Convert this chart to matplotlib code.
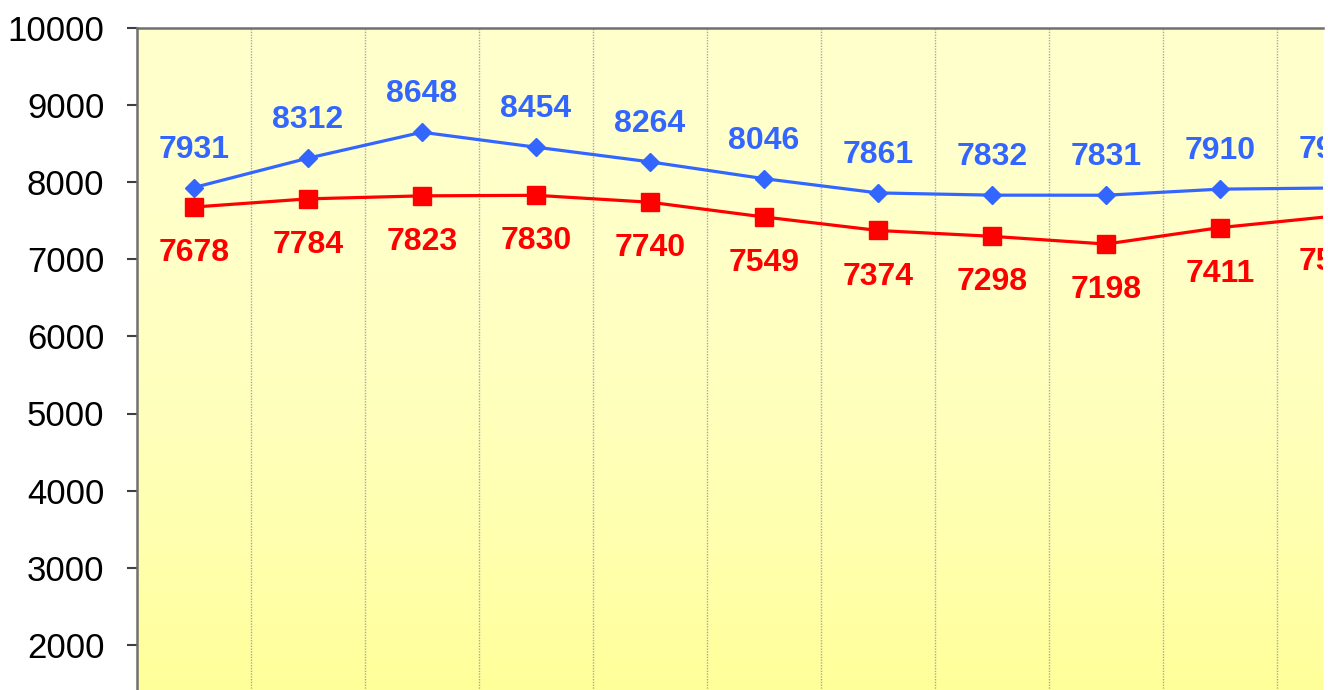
import numpy as np
import matplotlib
matplotlib.use("Agg")
import matplotlib.pyplot as plt

plt.rcParams['font.family'] = ['Liberation Sans', 'DejaVu Sans']

# ---- data ----
categories = list(range(11))
series_blue = [7931, 8312, 8648, 8454, 8264, 8046, 7861, 7832, 7831, 7910, 7925]
series_red = [7678, 7784, 7823, 7830, 7740, 7549, 7374, 7298, 7198, 7411, 7560]
y_ticks = [2000, 3000, 4000, 5000, 6000, 7000, 8000, 9000, 10000]

W, H = 1328, 690
fig = plt.figure(figsize=(W / 100, H / 100), dpi=100)
fig.patch.set_facecolor('white')

left_px, right_px, top_px, zero_px = 137, 1323, 28, 799
ax = fig.add_axes([left_px / W, (H - zero_px) / H,
                   (right_px - left_px) / W, (zero_px - top_px) / H])

xmin = -0.5
xmax = xmin + (right_px - left_px) / 114.0
ax.set_xlim(xmin, xmax)
ax.set_ylim(0, 10000)

# gradient background
t = np.linspace(0, 1, 256)  # 0 top -> 1 bottom
prof = t ** 2
top_c = np.array([255, 255, 205]) / 255
bot_c = np.array([255, 255, 135]) / 255
grad = (top_c[None, :] * (1 - prof[:, None]) + bot_c[None, :] * prof[:, None])
ax.imshow(grad[:, None, :], extent=[0, 1, 0, 1], transform=ax.transAxes,
          aspect='auto', zorder=0, interpolation='bilinear')

# vertical dotted grid at category boundaries
for b in np.arange(0.5, 12, 1.0):
    ax.axvline(b, color='#a8a8a8', linestyle=(0, (1, 1)), linewidth=1.0, zorder=1)

ax.plot(categories, series_blue, color='#3366ff', linewidth=2.3, marker='D',
        markersize=9.5, markerfacecolor='#3366ff', markeredgecolor='#3366ff', zorder=3)
ax.plot(categories, series_red, color='#ff0000', linewidth=2.3, marker='s',
        markersize=13, markerfacecolor='#ff0000', markeredgecolor='#ff0000', zorder=3)

for x, v in zip(categories, series_blue):
    ax.annotate(str(v), (x, v), xytext=(0, 21.6), textcoords='offset points',
                ha='center', va='baseline', fontsize=23, fontweight='bold',
                color='#3366ff', annotation_clip=False, clip_on=True, zorder=4)
for x, v in zip(categories, series_red):
    ax.annotate(str(v), (x, v), xytext=(0, -39), textcoords='offset points',
                ha='center', va='baseline', fontsize=23, fontweight='bold',
                color='#ff0000', annotation_clip=False, clip_on=True, zorder=4)

ax.set_yticks(y_ticks)
ax.set_yticklabels([str(v) for v in y_ticks])
ax.tick_params(axis='y', direction='out', length=7.5, width=1.5, color='#404040',
               labelsize=25, pad=16, labelcolor='black')
ax.set_xticks([])

for s in ['left', 'top']:
    ax.spines[s].set_color('#707070')
    ax.spines[s].set_linewidth(1.8)
ax.spines['right'].set_visible(False)
ax.spines['bottom'].set_visible(False)

fig.savefig('out.png', dpi=100, facecolor='white')
